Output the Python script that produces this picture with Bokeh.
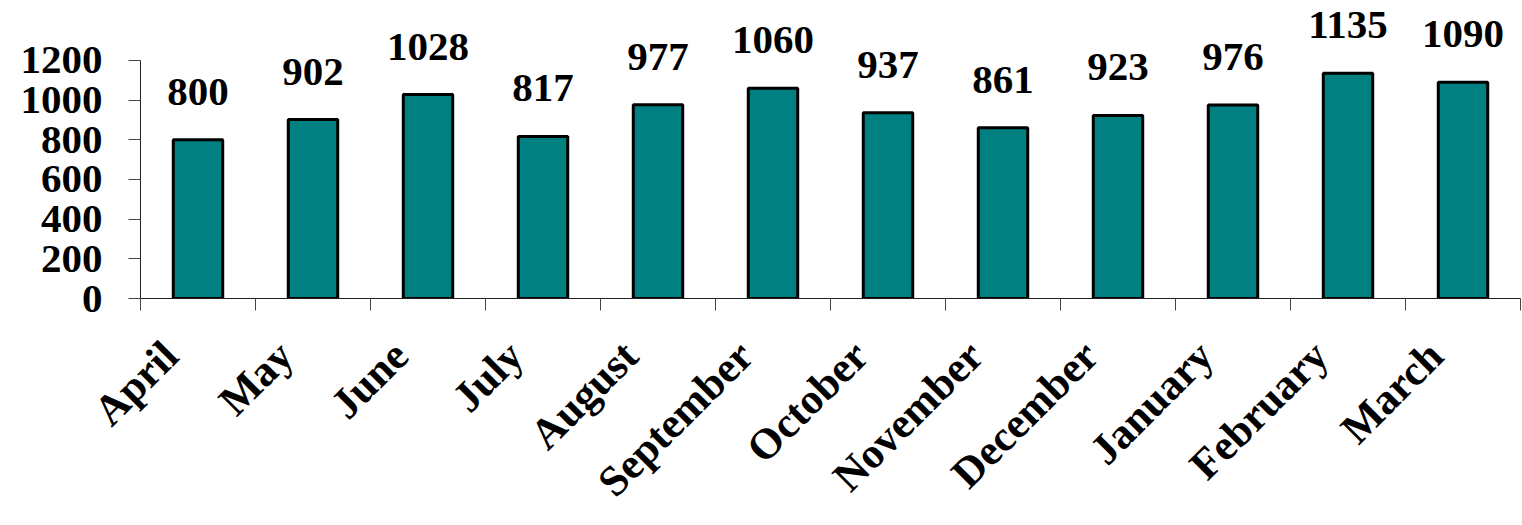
from bokeh.plotting import figure
from bokeh.models import ColumnDataSource, Range1d, FixedTicker, CustomJSTickFormatter
from bokeh.embed import file_html
from bokeh.resources import INLINE
from bokeh.core.properties import value
import math

months = ["April", "May", "June", "July", "August", "September", "October",
          "November", "December", "January", "February", "March"]
counts = [800, 902, 1028, 817, 977, 1060, 937, 861, 923, 976, 1135, 1090]
y_ticks = [0, 200, 400, 600, 800, 1000, 1200]

FONT = "Liberation Serif"
n = len(months)
x_pos = [i + 0.5 for i in range(n)]
LABEL_SHIFT = 0.24  # month label anchor shifted left of bar centre
label_ticks = [x - LABEL_SHIFT for x in x_pos]

src = ColumnDataSource(dict(x=x_pos, top=counts, label=[str(c) for c in counts]))

p = figure(width=1522, height=525, output_backend="svg", toolbar_location=None,
           x_range=Range1d(0, n), y_range=Range1d(0, 1462),
           min_border_left=140, min_border_right=2, min_border_top=8,
           min_border_bottom=227)
p.outline_line_color = None
p.xgrid.visible = False
p.ygrid.visible = False

p.vbar(x="x", top="top", width=0.43, bottom=0, source=src,
       fill_color="#008080", line_color="black", line_width=3)
p.text(x="x", y="top", text="label", source=src, text_align="center",
       text_baseline="alphabetic", y_offset=-48,
       text_font=value(FONT), text_font_style="bold", text_font_size="41px",
       text_color="black")

# y axis
ya = p.yaxis[0]
ya.ticker = FixedTicker(ticks=y_ticks, minor_ticks=[])
ya.bounds = (0, 1200)
ya.axis_line_color = "#222222"
ya.axis_line_width = 1
ya.major_tick_line_color = "#444444"
ya.major_tick_out = 12
ya.major_tick_in = 0
ya.minor_tick_line_color = None
ya.major_label_standoff = 26
ya.major_label_text_font = FONT
ya.major_label_text_font_style = "bold"
ya.major_label_text_font_size = "41px"
ya.major_label_text_color = "black"

# x axis
xa = p.xaxis[0]
xa.ticker = FixedTicker(ticks=label_ticks, minor_ticks=list(range(n + 1)))
xa.formatter = CustomJSTickFormatter(args=dict(names=months, shift=LABEL_SHIFT),
                                     code="return names[Math.round(tick + shift - 0.5)];")
xa.axis_line_color = "#222222"
xa.axis_line_width = 1
xa.major_tick_out = 0
xa.major_tick_in = 0
xa.major_tick_line_color = None
xa.minor_tick_out = 12
xa.minor_tick_in = 0
xa.minor_tick_line_color = "#444444"
xa.major_label_orientation = math.pi / 4
xa.major_label_standoff = 38
xa.major_label_text_font = FONT
xa.major_label_text_font_style = "bold"
xa.major_label_text_font_size = "43px"
xa.major_label_text_color = "black"

open("out.html", "w").write(file_html(p, INLINE))
